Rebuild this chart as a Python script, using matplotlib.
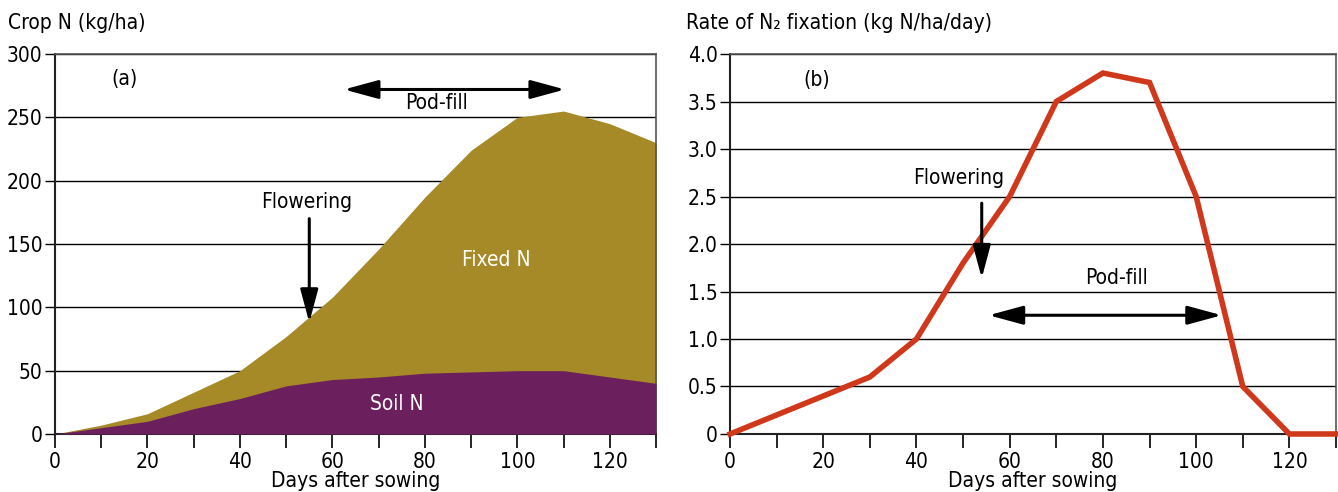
import matplotlib
matplotlib.use("Agg")
import matplotlib.pyplot as plt
from matplotlib.ticker import FuncFormatter

plt.rcParams['font.family'] = ['Liberation Sans Narrow', 'DejaVu Sans']
plt.rcParams['font.stretch'] = 'condensed'

# (a) crop N uptake, split into soil N and fixed N
days = [0, 10, 20, 30, 40, 50, 60, 70, 80, 90, 100, 110, 120, 130]
total_n = [0, 7, 16, 33, 50, 77, 108, 146, 187, 224, 250, 255, 245, 230]
soil_n = [0, 5, 10, 20, 28, 38, 43, 45, 48, 49, 50, 50, 45, 40]

# (b) daily N2 fixation rate
fix_rate = [0, 0.2, 0.4, 0.6, 1.0, 1.8, 2.5, 3.5, 3.8, 3.7, 2.5, 0.5, 0, 0]

olive = '#A68A28'
purple = '#6C1F5D'
red = '#D0381C'
fs = 15

single = dict(arrowstyle='-|>,head_length=0.67,head_width=0.18', color='black', lw=2.2,
              mutation_scale=30, shrinkA=0, shrinkB=0)
double = dict(arrowstyle='<|-|>,head_length=0.7,head_width=0.19', color='black', lw=2.2,
              mutation_scale=30, shrinkA=0, shrinkB=0)

fig = plt.figure(figsize=(13.38, 4.92), dpi=100)
ax1 = fig.add_axes([0.0411, 0.1179, 0.4492, 0.7723])
ax2 = fig.add_axes([0.5456, 0.1179, 0.4529, 0.7723])


def style(ax, ymax, ystep):
    ax.set_xlim(0, 130)
    ax.set_ylim(0, ymax)
    ax.set_xticks(range(0, 131, 10))
    ax.set_xticklabels([str(d) if d % 20 == 0 else '' for d in range(0, 131, 10)])
    yt = [i * ystep for i in range(int(round(ymax / ystep)) + 1)]
    ax.set_yticks(yt)
    ax.grid(axis='y', color='black', linewidth=1.0, zorder=0)
    ax.set_axisbelow(True)
    ax.tick_params(axis='x', direction='out', length=10, width=1.2, labelsize=fs, pad=3)
    ax.tick_params(axis='y', direction='out', length=7, width=1.0, labelsize=fs, pad=2)
    for s in ['left', 'bottom']:
        ax.spines[s].set_linewidth(1.5)
        ax.spines[s].set_color('#222222')
    for s in ['top', 'right']:
        ax.spines[s].set_linewidth(1.2)
        ax.spines[s].set_color('#555555')
    ax.set_xlabel('Days after sowing', fontsize=fs, labelpad=-1)


# panel (a)
style(ax1, 300, 50)
ax1.fill_between(days, 0, total_n, color=olive, linewidth=0, zorder=2)
ax1.fill_between(days, 0, soil_n, color=purple, linewidth=0, zorder=3)
ax1.text(15, 280, '(a)', fontsize=fs, ha='center', va='center')
ax1.text(95.5, 137, 'Fixed N', fontsize=fs, color='white', ha='center', va='center', zorder=4)
ax1.text(74, 24, 'Soil N', fontsize=fs, color='white', ha='center', va='center', zorder=4)
ax1.annotate('', xy=(62.5, 272), xytext=(110.3, 272), arrowprops=double)
ax1.text(82.5, 261, 'Pod-fill', fontsize=fs, ha='center', va='center')
ax1.text(54.5, 183, 'Flowering', fontsize=fs, ha='center', va='center')
ax1.annotate('', xy=(55, 88), xytext=(55, 170), arrowprops=single, zorder=5)
fig.text(8 / 1338, 1 - 23 / 492, 'Crop N (kg/ha)', fontsize=fs, ha='left', va='center')

# panel (b)
style(ax2, 4.0, 0.5)
ax2.yaxis.set_major_formatter(FuncFormatter(lambda v, p: '0' if v == 0 else f'{v:.1f}'))
ax2.plot(days, fix_rate, color=red, linewidth=4, solid_joinstyle='miter', zorder=3, clip_on=False)
ax2.text(18.5, 3.73, '(b)', fontsize=fs, ha='center', va='center')
ax2.text(49, 2.7, 'Flowering', fontsize=fs, ha='center', va='center')
ax2.annotate('', xy=(54, 1.64), xytext=(54, 2.43), arrowprops=single, zorder=5)
ax2.text(83, 1.64, 'Pod-fill', fontsize=fs, ha='center', va='center')
ax2.annotate('', xy=(55.5, 1.25), xytext=(105.5, 1.25), arrowprops=double)
fig.text(686 / 1338, 1 - 23 / 492, 'Rate of N\u2082 fixation (kg N/ha/day)', fontsize=fs,
         ha='left', va='center')

fig.savefig('out.png', dpi=100)
